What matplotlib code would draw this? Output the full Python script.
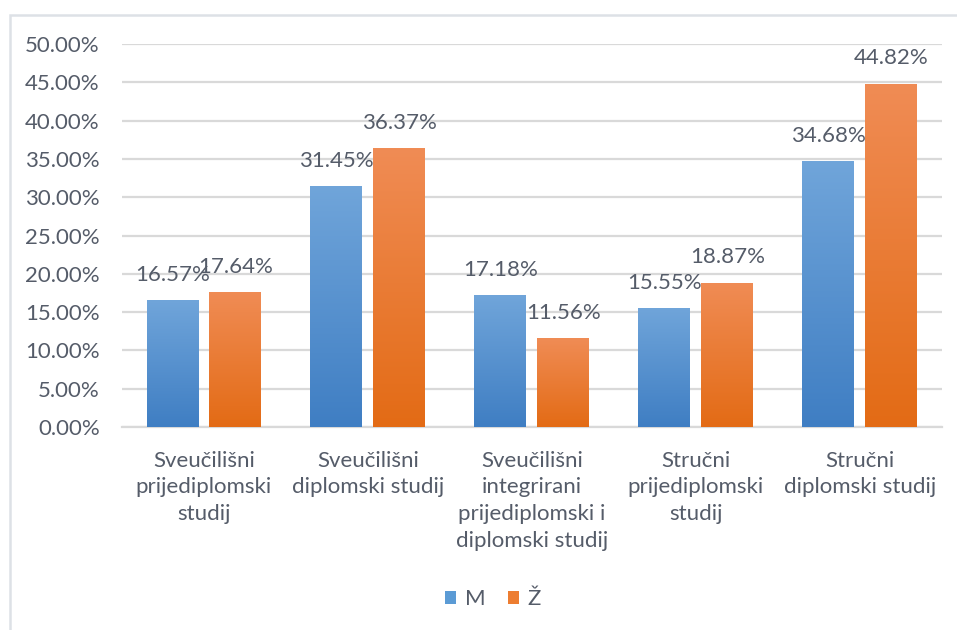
import numpy as np
import matplotlib
matplotlib.use("Agg")
import matplotlib.pyplot as plt
from matplotlib.patches import Patch, Rectangle
from matplotlib.colors import LinearSegmentedColormap

# data
categories = ["Sveučilišni\nprijediplomski\nstudij",
              "Sveučilišni\ndiplomski studij",
              "Sveučilišni\nintegrirani\nprijediplomski i\ndiplomski studij",
              "Stručni\nprijediplomski\nstudij",
              "Stručni\ndiplomski studij"]
series_names = ["M", "Ž"]
m_values = [16.57, 31.45, 17.18, 15.55, 34.68]
z_values = [17.64, 36.37, 11.56, 18.87, 44.82]
yticks = [0, 5, 10, 15, 20, 25, 30, 35, 40, 45, 50]

plt.rcParams['font.family'] = ['Lato', 'DejaVu Sans']
text_color = '#555c69'
grid_color = '#d9d9d9'
fs = 16

# gradient colours (top, bottom)
grads = [('#70a5da', '#3f7ec3'), ('#f08c55', '#e36b15')]
solid = ['#5b9bd5', '#ed7d31']

fig = plt.figure(figsize=(9.57, 6.3), dpi=100)
ax = fig.add_axes([0.1275, 0.3222, 0.8565, 0.6078])

x = np.arange(len(categories))
width = 0.317
offset = 0.192

def gradient_bars(bars, top, bottom):
    cmap = LinearSegmentedColormap.from_list('g', [bottom, top])
    grad = np.linspace(0, 1, 256).reshape(-1, 1)
    for b in bars:
        x0, y0 = b.get_x(), b.get_y()
        w, h = b.get_width(), b.get_height()
        im = ax.imshow(grad, cmap=cmap, origin='lower', aspect='auto',
                       extent=[x0, x0 + w, y0, y0 + h], zorder=3)
        im.set_clip_path(b)
        b.set_facecolor('none')

for i, vals in enumerate([m_values, z_values]):
    bars = ax.bar(x + (i * 2 - 1) * offset, vals, width, zorder=3,
                  edgecolor='none')
    gradient_bars(bars, *grads[i])
    for b, v in zip(bars, vals):
        ax.annotate('{:.2f}%'.format(v), (b.get_x() + b.get_width() / 2, v),
                    xytext=(0, 11), textcoords='offset points', ha='center',
                    va='bottom', fontsize=fs, color=text_color, zorder=5)

ax.set_xlim(-0.5, len(categories) - 0.5)
ax.set_ylim(0, 50)
ax.set_yticks(yticks)
ax.set_yticklabels(['{:.2f}%'.format(t) for t in yticks])
ax.set_xticks(x)
ax.set_xticklabels(categories, linespacing=1.42)
ax.tick_params(axis='both', length=0, labelsize=fs, colors=text_color)
ax.tick_params(axis='y', pad=16)
ax.tick_params(axis='x', pad=17)
for lab in ax.get_xticklabels():
    lab.set_ha('center')
    lab.set_va('top')

ax.yaxis.grid(True, color=grid_color, linewidth=1.6, zorder=0)
ax.set_axisbelow(True)
for s in ['top', 'right', 'left']:
    ax.spines[s].set_visible(False)
ax.spines['bottom'].set_color(grid_color)
ax.spines['bottom'].set_linewidth(1.6)

# legend
handles = [Patch(facecolor=solid[0]), Patch(facecolor=solid[1])]
fig.legend(handles, series_names, loc='center', bbox_to_anchor=(0.515, 0.049),
           ncol=2, frameon=False, fontsize=fs, labelcolor=text_color,
           handlelength=0.5, handleheight=0.5, handletextpad=0.4,
           columnspacing=1.0)

# outer border
fig.patches.append(Rectangle((10 / 957, -0.1), 1.2, 1.1 - 15 / 630,
                             transform=fig.transFigure, fill=False,
                             edgecolor='#dde1e6', linewidth=1.8))

fig.savefig('out.png', dpi=100)
